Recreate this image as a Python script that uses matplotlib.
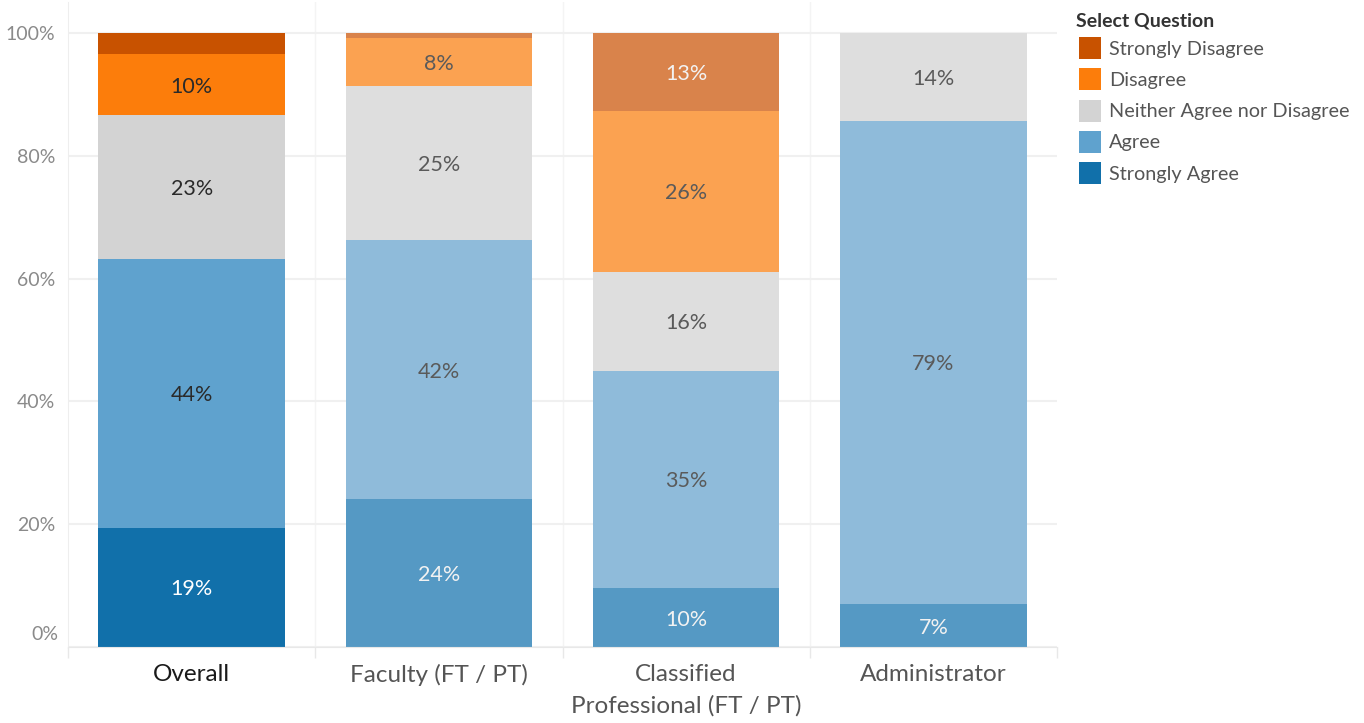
import matplotlib
matplotlib.use("Agg")
import matplotlib.pyplot as plt
from matplotlib.patches import Rectangle
import numpy as np

plt.rcParams['font.family'] = ['Lato', 'DejaVu Sans']

categories = ["Overall", "Faculty (FT / PT)", "Classified\nProfessional (FT / PT)", "Administrator"]
segments = ["Strongly Agree", "Agree", "Neither Agree nor Disagree", "Disagree", "Strongly Disagree"]
strongly_agree = [19.4, 24.05, 9.6, 7.0]
agree = [43.8, 42.2, 35.4, 78.7]
neither = [23.4, 25.1, 16.1, 14.3]
disagree = [10.0, 7.9, 26.2, 0.0]
strongly_disagree = [3.4, 0.75, 12.7, 0.0]
yticks = [0, 20, 40, 60, 80, 100]

series = [strongly_agree, agree, neither, disagree, strongly_disagree]
full_colors = ["#1170aa", "#5fa2ce", "#d3d3d3", "#fc7d0b", "#c85200"]
faded_colors = ["#5599c4", "#8fbbda", "#dedede", "#fba251", "#d9834b"]
full_text = ["#ffffff", "#2a2a2a", "#2a2a2a", "#2a2a2a", "#2a2a2a"]
faded_text = ["#f2f2f2", "#5a5a5a", "#5a5a5a", "#5a5a5a", "#f2f2f2"]

fig = plt.figure(figsize=(13.64, 7.23), dpi=100)
ax = fig.add_axes([68/1364, 1-647/723, (1057-68)/1364, (647-2)/723])

x = np.arange(len(categories))
bottom = np.zeros(len(categories))
for si, vals in enumerate(series):
    vals = np.array(vals)
    cols = [full_colors[si] if i == 0 else faded_colors[si] for i in range(len(categories))]
    ax.bar(x, vals, bottom=bottom, width=0.755, color=cols, linewidth=0, zorder=2)
    for i, v in enumerate(vals):
        if v >= 5:
            tc = full_text[si] if i == 0 else faded_text[si]
            ax.text(x[i], bottom[i] + v/2, f"{int(v + 0.5)}%", ha='center', va='center_baseline',
                    fontsize=15.5, color=tc, zorder=3)
    bottom += vals

ax.set_xlim(-0.5, len(categories) - 0.5)
ax.set_ylim(0, 100 * 645/614)
ax.set_yticks(yticks)
ax.set_yticklabels(["" if t == 0 else f"{t}%" for t in yticks], fontsize=14, color="#8a8a8a")
ax.annotate(f"{yticks[0]}%", xy=(0, yticks[0]), xycoords=('axes fraction', 'data'),
            xytext=(-10, 12), textcoords='offset pixels', ha='right', va='center',
            fontsize=14, color="#8a8a8a", annotation_clip=False)
ax.yaxis.grid(True, color="#f0f0f0", linewidth=1.5, zorder=0)
ax.set_axisbelow(True)
ax.tick_params(axis='y', length=0, pad=9)

ax.set_xticks(x)
ax.set_xticklabels(categories, fontsize=17.5, color="#555555", linespacing=1.62)
ax.get_xticklabels()[0].set_color("#1a1a1a")
ax.set_xticks(np.arange(-0.5, len(categories)), minor=True)
ax.tick_params(axis='x', which='major', length=0, pad=12)
ax.tick_params(axis='x', which='minor', length=8, color="#e8e8e8", width=1)

for s in ['top', 'right']:
    ax.spines[s].set_visible(False)
ax.spines['left'].set_color("#eeeeee")
ax.spines['bottom'].set_color("#e8e8e8")
for xb in np.arange(0.5, len(categories) - 0.5):
    ax.axvline(xb, color="#f4f4f4", linewidth=1, zorder=0)

# legend
fig.text(1076/1364, 1-21/723, "Select Question", fontsize=14, fontweight='bold',
         color="#333333", ha='left', va='center')
legend_order = [4, 3, 2, 1, 0]
for k, si in enumerate(legend_order):
    yc = 48 + k * 31.3
    fig.patches.append(Rectangle((1079/1364, 1-(yc+11)/723), 22/1364, 22/723,
                                 transform=fig.transFigure, facecolor=full_colors[si],
                                 edgecolor='none'))
    fig.text(1109/1364, 1-(yc+1)/723, segments[si], fontsize=14.3, color="#555555",
             ha='left', va='center')

fig.savefig("out.png", dpi=100)
